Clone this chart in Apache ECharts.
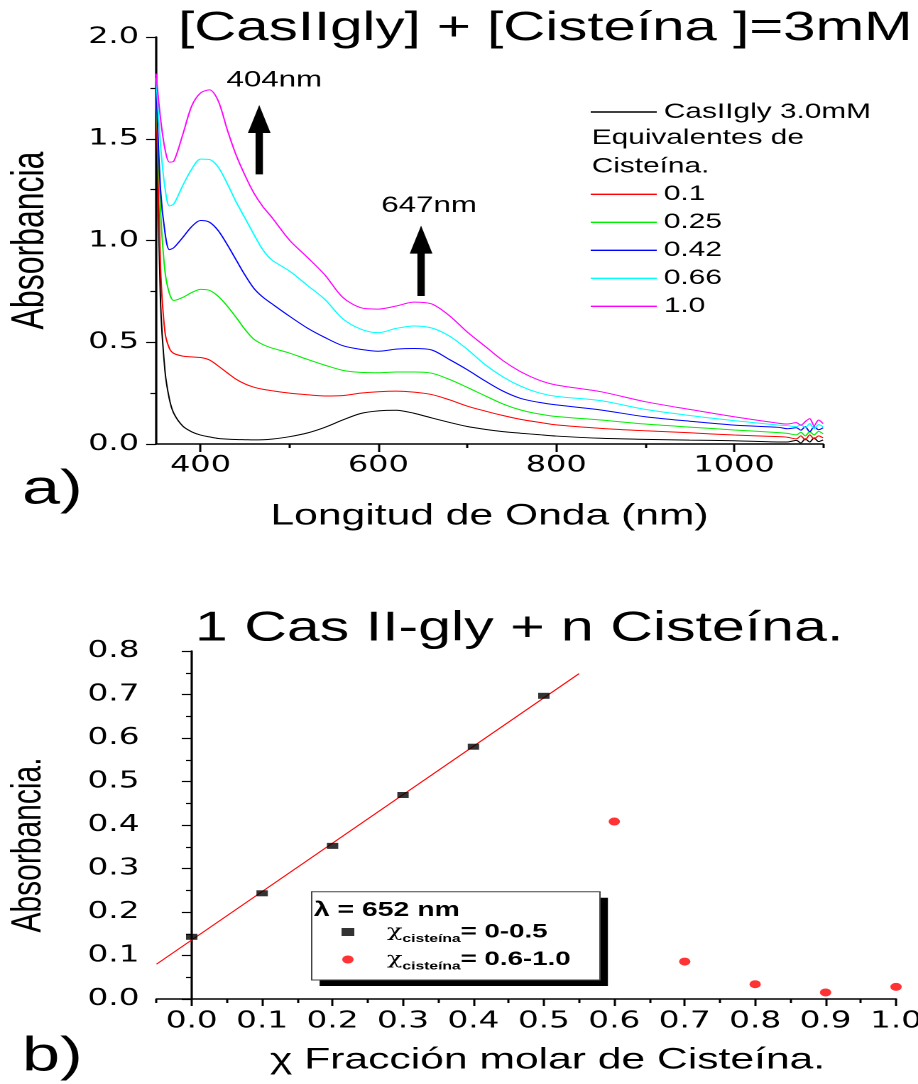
<!DOCTYPE html>
<html>
<head>
<meta charset="utf-8">
<title>CasIIgly + Cisteína</title>
<script src="https://cdn.jsdelivr.net/npm/echarts@6/dist/echarts.min.js"></script>
<style>
  html, body { margin: 0; padding: 0; background: #fff; overflow: hidden; }
  /* la figura original viene estirada en horizontal, se reproduce con scaleX */
  #chart { width: 647px; height: 1084px; transform: scaleX(1.42); transform-origin: 0 0; }
</style>
</head>
<body>
<div id="chart"></div>
<script>
// a) espectros UV-vis
const wavelengths = [350, 355, 360, 365, 370, 380, 390, 400, 410, 420, 430, 440, 450, 460, 470, 480, 500, 520, 540, 560,
  580, 600, 620, 640, 660, 680, 700, 720, 740, 760, 780, 800, 850, 900, 950, 1000, 1050, 1060, 1070, 1075, 1080, 1085, 1090, 1095, 1100]
const casIIgly = [1.70, 0.70, 0.36, 0.22, 0.15, 0.088, 0.060, 0.044, 0.035, 0.027, 0.024, 0.022, 0.021, 0.020, 0.021, 0.024, 0.036, 0.054, 0.082, 0.118,
  0.150, 0.163, 0.166, 0.151, 0.128, 0.106, 0.086, 0.072, 0.061, 0.053, 0.046, 0.039, 0.028, 0.023, 0.019, 0.016, 0.010, 0.010, 0.018, 0.005, 0.025, 0.010, 0.030, 0.012, 0.020]
const cis010 = [1.75, 0.87, 0.55, 0.47, 0.445, 0.432, 0.428, 0.425, 0.413, 0.383, 0.350, 0.318, 0.295, 0.279, 0.269, 0.262, 0.250, 0.242, 0.236, 0.238,
  0.250, 0.257, 0.260, 0.255, 0.243, 0.217, 0.186, 0.162, 0.140, 0.121, 0.107, 0.094, 0.077, 0.065, 0.055, 0.044, 0.036, 0.033, 0.025, 0.040, 0.020, 0.045, 0.025, 0.040, 0.030]
const cis025 = [1.75, 1.15, 0.85, 0.74, 0.705, 0.72, 0.744, 0.76, 0.755, 0.725, 0.678, 0.622, 0.563, 0.515, 0.489, 0.472, 0.447, 0.416, 0.387, 0.362,
  0.352, 0.350, 0.354, 0.354, 0.348, 0.317, 0.278, 0.237, 0.197, 0.167, 0.148, 0.135, 0.118, 0.098, 0.083, 0.069, 0.056, 0.052, 0.045, 0.058, 0.040, 0.060, 0.045, 0.062, 0.050]
const cis042 = [1.78, 1.25, 1.04, 0.955, 0.965, 1.015, 1.068, 1.098, 1.09, 1.048, 0.98, 0.905, 0.83, 0.765, 0.722, 0.69, 0.628, 0.57, 0.523, 0.483,
  0.465, 0.456, 0.466, 0.469, 0.462, 0.415, 0.365, 0.310, 0.260, 0.224, 0.205, 0.192, 0.167, 0.134, 0.112, 0.093, 0.082, 0.075, 0.080, 0.068, 0.085, 0.060, 0.085, 0.070, 0.080]
const cis066 = [1.80, 1.47, 1.26, 1.17, 1.18, 1.27, 1.35, 1.40, 1.398, 1.36, 1.28, 1.19, 1.11, 1.03, 0.955, 0.905, 0.85, 0.78, 0.71, 0.615,
  0.565, 0.547, 0.568, 0.580, 0.570, 0.530, 0.465, 0.39, 0.33, 0.284, 0.252, 0.234, 0.213, 0.170, 0.140, 0.115, 0.093, 0.090, 0.085, 0.095, 0.080, 0.100, 0.075, 0.095, 0.085]
const cis100 = [1.82, 1.60, 1.45, 1.385, 1.39, 1.52, 1.66, 1.725, 1.74, 1.685, 1.545, 1.42, 1.32, 1.233, 1.167, 1.115, 1.002, 0.918, 0.83, 0.72,
  0.67, 0.663, 0.678, 0.697, 0.688, 0.63, 0.55, 0.48, 0.41, 0.355, 0.315, 0.29, 0.257, 0.208, 0.170, 0.134, 0.102, 0.098, 0.105, 0.092, 0.110, 0.125, 0.090, 0.118, 0.100]
const waveTicks = [400, 600, 800, 1000]
const waveMinorTicks = [500, 700, 900, 1100]

// flechas y rotulos (404nm / 647nm)
const arrowNm = [466, 648]
const arrowBase = [1.325, 0.727]
const arrowTip = [1.666, 1.073]
const arrowText = ['404nm', '647nm']
const arrowTextNm = [483, 657]
const arrowTextAbs = [1.787, 1.171]

// b) fraccion molar
const fraccionBajo = [0.0, 0.1, 0.2, 0.3, 0.4, 0.5]
const absBajo = [0.143, 0.243, 0.352, 0.469, 0.580, 0.697]
const fraccionAlto = [0.6, 0.7, 0.8, 0.9, 1.0]
const absAlto = [0.408, 0.086, 0.034, 0.015, 0.028]
const ajusteX = [-0.05, 0.55]
const ajusteY = [0.080, 0.748]
const fraccionTicks = [0.0, 0.1, 0.2, 0.3, 0.4, 0.5, 0.6, 0.7, 0.8, 0.9, 1.0]
const fraccionMinorTicks = [-0.05, 0.05, 0.15, 0.25, 0.35, 0.45, 0.55, 0.65, 0.75, 0.85, 0.95]

const font = 'Liberation Sans'
const tickFont = 'DejaVu Sans'

function spectrum(name, values, color) {
  return {
    name: name,
    type: 'line',
    xAxisIndex: 0,
    yAxisIndex: 0,
    data: wavelengths.map((w, i) => [w, values[i]]),
    symbol: 'none',
    smooth: 0.3,
    color: color,
    lineStyle: { width: 1, color: color }
  }
}

const axisLine = { lineStyle: { color: '#000', width: 1.6 } }

const myChart = echarts.init(document.getElementById('chart'), null, { devicePixelRatio: 2 })
const option = {
  animation: false,
  textStyle: { fontFamily: font, color: '#000' },
  grid: [
    { left: 109.9, right: 67.4, top: 37, height: 407, outerBoundsMode: 'none' },
    { left: 110.2, right: 16, top: 651, height: 348, outerBoundsMode: 'none' }
  ],
  xAxis: [
    {
      gridIndex: 0,
      type: 'value',
      min: 350,
      max: 1100,
      name: 'Longitud de Onda (nm)',
      nameLocation: 'middle',
      nameGap: 57,
      nameTextStyle: { fontSize: 30, color: '#000' },
      axisLine: axisLine,
      axisTick: { customValues: waveTicks, length: 8, lineStyle: { color: '#000', width: 1.5 } },
      axisLabel: { customValues: waveTicks, fontSize: 22.5, fontFamily: tickFont, margin: 10, color: '#000', formatter: v => String(v) },
      splitLine: { show: false }
    },
    {
      gridIndex: 0,
      type: 'value',
      min: 350,
      max: 1100,
      position: 'bottom',
      axisLine: { show: false },
      axisTick: { customValues: waveMinorTicks, length: 4, lineStyle: { color: '#000', width: 1.5 } },
      axisLabel: { show: false },
      splitLine: { show: false }
    },
    {
      gridIndex: 1,
      type: 'value',
      min: -0.05,
      max: 1.0,
      name: 'χ Fracción molar de Cisteína.',
      nameLocation: 'middle',
      nameGap: 46,
      nameTextStyle: { fontSize: 30, color: '#000', padding: [0, 0, 0, 30] },
      axisLine: axisLine,
      axisTick: { customValues: fraccionTicks, length: 7, lineStyle: { color: '#000', width: 1.5 } },
      axisLabel: {
        customValues: fraccionTicks,
        fontSize: 23,
        fontFamily: tickFont,
        margin: 11,
        color: '#000',
        formatter: v => v.toFixed(1)
      },
      splitLine: { show: false }
    },
    {
      gridIndex: 1,
      type: 'value',
      min: -0.05,
      max: 1.0,
      position: 'bottom',
      axisLine: { show: false },
      axisTick: { customValues: fraccionMinorTicks, length: 4, lineStyle: { color: '#000', width: 1.5 } },
      axisLabel: { show: false },
      splitLine: { show: false }
    }
  ],
  yAxis: [
    {
      gridIndex: 0,
      type: 'value',
      min: 0,
      max: 2,
      interval: 0.5,
      name: 'Absorbancia',
      nameLocation: 'middle',
      nameGap: 72,
      nameTextStyle: { fontSize: 32, color: '#000' },
      axisLine: { show: true, lineStyle: { color: '#000', width: 1.6 } },
      axisTick: { show: true, length: 7, lineStyle: { color: '#000', width: 1.2 } },
      minorTick: { show: true, splitNumber: 2, length: 4, lineStyle: { color: '#000', width: 1.2 } },
      axisLabel: { fontSize: 22.5, fontFamily: tickFont, margin: 12, color: '#000', formatter: v => v.toFixed(1) },
      splitLine: { show: false }
    },
    {
      gridIndex: 1,
      type: 'value',
      min: 0,
      max: 0.8,
      interval: 0.1,
      name: 'Absorbancia.',
      nameLocation: 'middle',
      nameGap: 75,
      nameTextStyle: { fontSize: 30, color: '#000', padding: [0, 40, 0, 0] },
      axisLine: { show: true, lineStyle: { color: '#000', width: 1.6 } },
      axisTick: { show: true, length: 7, lineStyle: { color: '#000', width: 1.2 } },
      minorTick: { show: true, splitNumber: 2, length: 4, lineStyle: { color: '#000', width: 1.2 } },
      axisLabel: { fontSize: 23, fontFamily: tickFont, margin: 12, color: '#000', formatter: v => v.toFixed(1) },
      splitLine: { show: false }
    }
  ],
  legend: [
    {
      data: ['CasIIgly 3.0mM'],
      selectedMode: false,
      orient: 'vertical',
      left: 416,
      top: 101,
      padding: 0,
      icon: 'rect',
      itemWidth: 46.5,
      itemHeight: 1.4,
      textStyle: { fontSize: 21, lineHeight: 22, color: '#000' }
    },
    {
      data: ['0.1', '0.25', '0.42', '0.66', '1.0'],
      selectedMode: false,
      orient: 'vertical',
      left: 416,
      top: 183.3,
      padding: 0,
      itemGap: 6,
      icon: 'rect',
      itemWidth: 46.5,
      itemHeight: 1.4,
      textStyle: { fontSize: 21, lineHeight: 22, color: '#000' }
    },
    {
      data: ['bajo', 'alto'],
      selectedMode: false,
      orient: 'vertical',
      left: 240.5,
      top: 922,
      padding: 0,
      itemGap: 5,
      itemWidth: 9,
      itemHeight: 8,
      formatter: function (name) {
        return name === 'bajo' ? '{c|χ}{s|cisteína}{v|= 0-0.5}' : '{c|χ}{s|cisteína}{v|= 0.6-1.0}'
      },
      textStyle: {
        rich: {
          c: { fontSize: 18, fontFamily: 'DejaVu Serif', color: '#000', padding: [0, 0, 0, 18] },
          s: { fontSize: 11, fontWeight: 'bold', color: '#000', padding: [14, 0, 0, 0] },
          v: { fontSize: 19.5, fontWeight: 'bold', color: '#000' }
        }
      }
    }
  ],
  graphic: [
    { type: 'text', x: 125.4, y: 28.8, style: { text: '[CasIIgly] + [Cisteína ]=3mM', fontSize: 41, fontFamily: font, fill: '#000', verticalAlign: 'middle' } },
    { type: 'text', x: 137.3, y: 628.8, style: { text: '1 Cas II-gly + n Cisteína.', fontSize: 41.6, fontFamily: font, fill: '#000', verticalAlign: 'middle' } },
    { type: 'text', x: 15.5, y: 490.4, style: { text: 'a)', fontSize: 48, fontFamily: font, fill: '#000', verticalAlign: 'middle' } },
    { type: 'text', x: 15.5, y: 1057.4, style: { text: 'b)', fontSize: 48, fontFamily: font, fill: '#000', verticalAlign: 'middle' } },
    { type: 'text', x: 416.7, y: 138, style: { text: 'Equivalentes de', fontSize: 21, fontFamily: font, fill: '#000', verticalAlign: 'middle' } },
    { type: 'text', x: 416.7, y: 166.7, style: { text: 'Cisteína.', fontSize: 21, fontFamily: font, fill: '#000', verticalAlign: 'middle' } },
    // sombra y caja de la leyenda de b)
    { type: 'rect', z: 2, shape: { x: 225.1, y: 897.7, width: 203, height: 88.3 }, style: { fill: '#000' } },
    { type: 'rect', z: 3, shape: { x: 219.5, y: 891.7, width: 203, height: 88.3 }, style: { fill: '#fff', stroke: '#444', lineWidth: 1 } },
    { type: 'text', z: 5, x: 221, y: 910.5, style: { text: 'λ = 652 nm', fontSize: 20, fontWeight: 'bold', fontFamily: font, fill: '#000', verticalAlign: 'middle' } }
  ],
  series: [
    spectrum('CasIIgly 3.0mM', casIIgly, '#000000'),
    spectrum('0.1', cis010, '#ff0000'),
    spectrum('0.25', cis025, '#00ee00'),
    spectrum('0.42', cis042, '#0000ff'),
    spectrum('0.66', cis066, '#00ffff'),
    spectrum('1.0', cis100, '#ff00ff'),
    {
      name: 'flechas',
      type: 'custom',
      xAxisIndex: 0,
      yAxisIndex: 0,
      clip: false,
      encode: { x: 0, y: 1 },
      data: arrowNm.map((x, i) => [x, arrowBase[i], arrowTip[i], arrowTextNm[i], arrowTextAbs[i]]),
      renderItem: function (params, api) {
        const base = api.coord([api.value(0), api.value(1)])
        const tip = api.coord([api.value(0), api.value(2)])
        const txt = api.coord([api.value(3), api.value(4)])
        return {
          type: 'group',
          children: [
            { type: 'rect', shape: { x: base[0] - 2.6, y: tip[1] + 26, width: 5.2, height: base[1] - tip[1] - 26 }, style: { fill: '#000' } },
            { type: 'polygon', shape: { points: [[tip[0], tip[1]], [tip[0] - 8, tip[1] + 28], [tip[0] + 8, tip[1] + 28]] }, style: { fill: '#000' } },
            { type: 'text', x: txt[0], y: txt[1], style: { text: arrowText[params.dataIndex], fontSize: 22, fontFamily: font, fill: '#000', align: 'center', verticalAlign: 'middle' } }
          ]
        }
      }
    },
    {
      name: 'ajuste',
      type: 'line',
      xAxisIndex: 2,
      yAxisIndex: 1,
      data: ajusteX.map((x, i) => [x, ajusteY[i]]),
      symbol: 'none',
      color: '#ff0000',
      lineStyle: { width: 1, color: '#ff0000' },
      z: 2
    },
    {
      name: 'bajo',
      type: 'scatter',
      xAxisIndex: 2,
      yAxisIndex: 1,
      data: fraccionBajo.map((x, i) => [x, absBajo[i]]),
      symbol: 'rect',
      symbolSize: [8, 6],
      color: '#000',
      z: 3
    },
    {
      name: 'alto',
      type: 'scatter',
      xAxisIndex: 2,
      yAxisIndex: 1,
      data: fraccionAlto.map((x, i) => [x, absAlto[i]]),
      symbol: 'circle',
      symbolSize: 8,
      color: '#ff0000',
      z: 3
    }
  ]
}
myChart.setOption(option)
</script>
</body>
</html>
